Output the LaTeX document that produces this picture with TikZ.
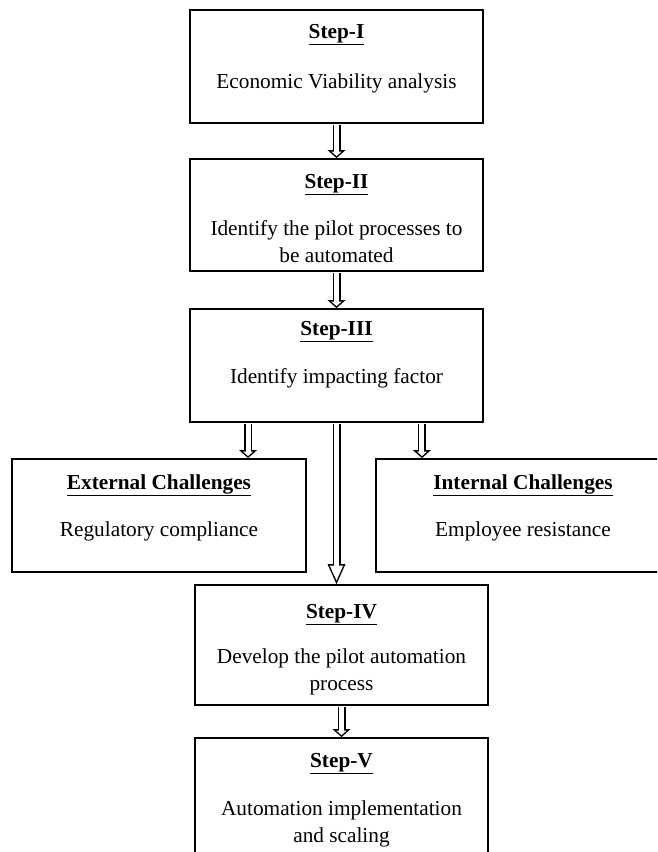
\documentclass[tikz,border=0pt]{standalone}
\usepackage{fontspec}
\setmainfont{Liberation Serif}
\usetikzlibrary{positioning,calc,arrows.meta}

\tikzset{
  stepbox/.style={draw,line width=1.8pt,rectangle,inner sep=0pt,minimum width=293pt},
  boxtitle/.style={font=\fontsize{21.3}{27}\selectfont\bfseries,inner sep=0pt},
  boxtext/.style={font=\fontsize{21.3}{27}\selectfont,align=center,inner sep=0pt},
  hollow/.style={line width=8pt,shorten <=1pt,
    -{Triangle[length=8pt,width=18pt,line width=0pt]},
    postaction={draw=white,line width=5pt,shorten >=2pt,
      -{Triangle[length=4.5pt,width=10.1pt,line width=0pt]}}},
  longhollow/.style={line width=8pt,shorten <=1pt,
    -{Triangle[length=20pt,width=18pt,line width=0pt]},
    postaction={draw=white,line width=5pt,shorten >=3.7pt,
      -{Triangle[length=14.8pt,width=13.4pt,line width=0pt]}}}
}

\begin{document}
\begin{tikzpicture}[x=1pt,y=-1pt]
\path[use as bounding box,clip] (0,0) rectangle (657,852);

% boxes
\node[stepbox,minimum height=113pt] (s1) at (336.5,66.5) {};
\node[stepbox,minimum height=112pt] (s2) at (336.5,215) {};
\node[stepbox,minimum height=113pt] (s3) at (336.5,365.5) {};
\node[stepbox,minimum width=294pt,minimum height=113pt] (ext) at (159,515.5) {};
\node[stepbox,minimum width=294pt,minimum height=113pt] (int) at (523,515.5) {};
\node[stepbox,minimum height=120pt] (s4) at (341.5,645) {};
\node[stepbox,minimum height=132pt] (s5) at (341.5,804) {};

% texts (two-line nodes sit on their last line)
\node[boxtitle,below=29pt of s1.north,anchor=base] (t1) {\underline{Step-I}};
\node[boxtext,below=79pt of s1.north,anchor=base] (b1) {Economic Viability analysis};
\node[boxtitle,below=30pt of s2.north,anchor=base] (t2) {\underline{Step-II}};
\node[boxtext,below=104pt of s2.north,anchor=base] (b2) {Identify the pilot processes to\\be automated};
\node[boxtitle,below=27pt of s3.north,anchor=base] (t3) {\underline{Step-III}};
\node[boxtext,below=75pt of s3.north,anchor=base] (b3) {Identify impacting factor};
\node[boxtitle,below=31pt of ext.north,anchor=base] (te) {\underline{External Challenges}};
\node[boxtext,below=78pt of ext.north,anchor=base] (be) {Regulatory compliance};
\node[boxtitle,below=31pt of int.north,anchor=base] (ti) {\underline{Internal Challenges}};
\node[boxtext,below=78pt of int.north,anchor=base] (bi) {Employee resistance};
\node[boxtitle,below=34pt of s4.north,anchor=base] (t4) {\underline{Step-IV}};
\node[boxtext,below=106pt of s4.north,anchor=base] (b4) {Develop the pilot automation\\process};
\node[boxtitle,below=30pt of s5.north,anchor=base] (t5) {\underline{Step-V}};
\node[boxtext,below=105pt of s5.north,anchor=base] (b5) {Automation implementation\\and scaling};

% arrows
\coordinate (l3) at ($(s3.south west)!0.2!(s3.south east)$);
\coordinate (r3) at ($(s3.south west)!0.79!(s3.south east)$);
\draw[hollow] (s1.south) -- (s2.north);
\draw[hollow] (s2.south) -- (s3.north);
\draw[hollow] (l3) -- (l3 |- ext.north);
\draw[hollow] (r3) -- (r3 |- int.north);
\draw[longhollow] (s3.south) -- (s3.south |- s4.north);
\draw[hollow] (s4.south) -- (s5.north);
\end{tikzpicture}
\end{document}
